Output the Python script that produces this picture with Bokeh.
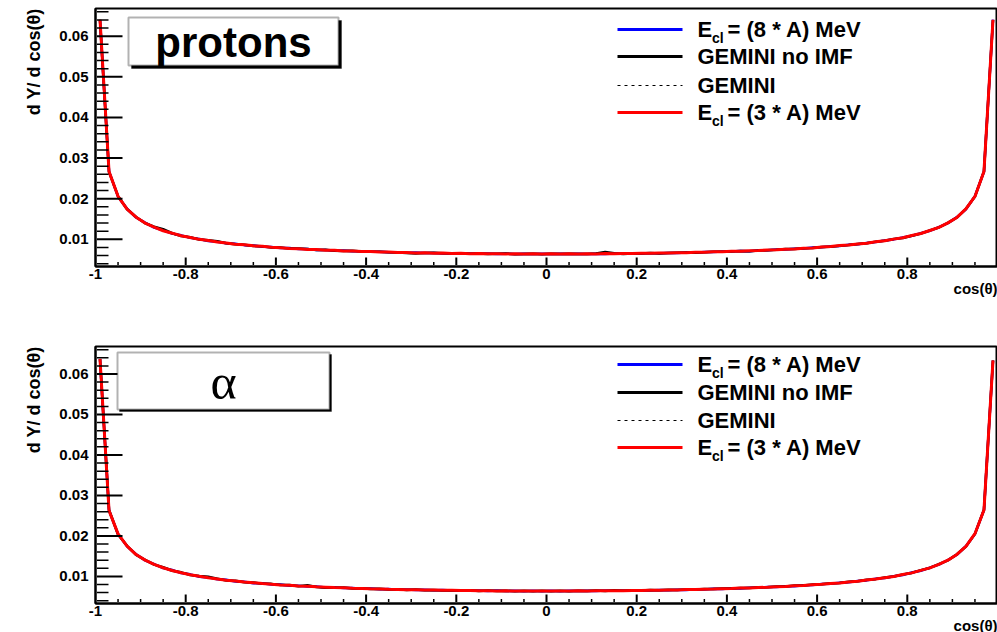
import numpy as np
from bokeh.plotting import figure
from bokeh.models import Range1d, FixedTicker, Label, BoxAnnotation, Title
from bokeh.layouts import column
from bokeh.embed import file_html
from bokeh.resources import INLINE

# 100 bins in cos(theta) between -1 and 1; curves go through the bin centres
n_bins = 100
cos_theta = np.linspace(-0.99, 0.99, n_bins)

# ---- protons ----
proton_ecl8 = [
    0.06395, 0.02671, 0.02049, 0.01751, 0.01536, 0.01408, 0.01289, 0.01220, 0.01139, 0.01097,
    0.01036, 0.01008, 0.00959, 0.00941, 0.00901, 0.00889, 0.00856, 0.00846, 0.00818, 0.00811,
    0.00786, 0.00783, 0.00760, 0.00759, 0.00739, 0.00737, 0.00720, 0.00721, 0.00704, 0.00705,
    0.00690, 0.00692, 0.00678, 0.00681, 0.00668, 0.00672, 0.00660, 0.00664, 0.00653, 0.00658,
    0.00647, 0.00652, 0.00642, 0.00648, 0.00639, 0.00646, 0.00637, 0.00644, 0.00636, 0.00642,
    0.00636, 0.00643, 0.00637, 0.00645, 0.00638, 0.00646, 0.00640, 0.00649, 0.00644, 0.00655,
    0.00650, 0.00658, 0.00654, 0.00664, 0.00660, 0.00676, 0.00668, 0.00686, 0.00684, 0.00698,
    0.00697, 0.00712, 0.00704, 0.00728, 0.00729, 0.00747, 0.00750, 0.00769, 0.00774, 0.00795,
    0.00802, 0.00827, 0.00837, 0.00865, 0.00879, 0.00911, 0.00931, 0.00970, 0.00997, 0.01046,
    0.01086, 0.01150, 0.01209, 0.01300, 0.01397, 0.01545, 0.01739, 0.02061, 0.02663, 0.06405,
]
proton_gemini_noimf = [
    0.06390, 0.02660, 0.02062, 0.01738, 0.01550, 0.01395, 0.01310, 0.01250, 0.01150, 0.01080,
    0.01050, 0.00995, 0.00975, 0.00950, 0.00900, 0.00880, 0.00868, 0.00835, 0.00828, 0.00800,
    0.00795, 0.00770, 0.00772, 0.00758, 0.00738, 0.00742, 0.00720, 0.00712, 0.00715, 0.00700,
    0.00690, 0.00695, 0.00680, 0.00672, 0.00660, 0.00650, 0.00662, 0.00668, 0.00655, 0.00650,
    0.00656, 0.00645, 0.00650, 0.00640, 0.00645, 0.00648, 0.00632, 0.00640, 0.00645, 0.00630,
    0.00642, 0.00636, 0.00645, 0.00640, 0.00638, 0.00650, 0.00690, 0.00655, 0.00640, 0.00648,
    0.00652, 0.00662, 0.00650, 0.00660, 0.00668, 0.00675, 0.00670, 0.00680, 0.00692, 0.00690,
    0.00700, 0.00712, 0.00705, 0.00722, 0.00730, 0.00740, 0.00758, 0.00762, 0.00780, 0.00788,
    0.00812, 0.00818, 0.00842, 0.00858, 0.00886, 0.00902, 0.00942, 0.00962, 0.01010, 0.01030,
    0.01085, 0.01140, 0.01220, 0.01290, 0.01405, 0.01535, 0.01750, 0.02050, 0.02672, 0.06398,
]
proton_gemini = [
    0.06402, 0.02668, 0.02055, 0.01745, 0.01540, 0.01403, 0.01293, 0.01215, 0.01148, 0.01088,
    0.01045, 0.00999, 0.00968, 0.00933, 0.00909, 0.00881, 0.00863, 0.00839, 0.00825, 0.00804,
    0.00793, 0.00776, 0.00767, 0.00752, 0.00745, 0.00731, 0.00726, 0.00714, 0.00710, 0.00699,
    0.00696, 0.00686, 0.00684, 0.00675, 0.00674, 0.00666, 0.00666, 0.00658, 0.00659, 0.00652,
    0.00653, 0.00646, 0.00648, 0.00642, 0.00645, 0.00640, 0.00643, 0.00638, 0.00641, 0.00637,
    0.00641, 0.00637, 0.00642, 0.00639, 0.00644, 0.00641, 0.00646, 0.00644, 0.00650, 0.00649,
    0.00656, 0.00655, 0.00662, 0.00662, 0.00670, 0.00670, 0.00679, 0.00680, 0.00690, 0.00692,
    0.00703, 0.00706, 0.00718, 0.00722, 0.00735, 0.00741, 0.00756, 0.00763, 0.00780, 0.00789,
    0.00808, 0.00821, 0.00843, 0.00859, 0.00885, 0.00905, 0.00937, 0.00964, 0.01003, 0.01040,
    0.01092, 0.01144, 0.01215, 0.01294, 0.01403, 0.01539, 0.01745, 0.02055, 0.02669, 0.06399,
]
proton_ecl3 = [
    0.06404, 0.02665, 0.02058, 0.01740, 0.01545, 0.01398, 0.01298, 0.01210, 0.01150, 0.01086,
    0.01046, 0.00998, 0.00970, 0.00932, 0.00910, 0.00880, 0.00864, 0.00838, 0.00826, 0.00802,
    0.00794, 0.00775, 0.00768, 0.00750, 0.00746, 0.00730, 0.00727, 0.00713, 0.00711, 0.00698,
    0.00697, 0.00685, 0.00685, 0.00674, 0.00675, 0.00665, 0.00667, 0.00657, 0.00660, 0.00651,
    0.00654, 0.00645, 0.00649, 0.00641, 0.00646, 0.00639, 0.00644, 0.00637, 0.00642, 0.00636,
    0.00642, 0.00636, 0.00643, 0.00638, 0.00645, 0.00640, 0.00647, 0.00643, 0.00651, 0.00648,
    0.00657, 0.00654, 0.00663, 0.00661, 0.00671, 0.00669, 0.00680, 0.00679, 0.00691, 0.00691,
    0.00704, 0.00705, 0.00719, 0.00721, 0.00736, 0.00740, 0.00757, 0.00762, 0.00781, 0.00788,
    0.00809, 0.00820, 0.00844, 0.00858, 0.00886, 0.00904, 0.00938, 0.00963, 0.01004, 0.01039,
    0.01093, 0.01143, 0.01216, 0.01293, 0.01404, 0.01538, 0.01746, 0.02054, 0.02670, 0.06403,
]

# ---- alphas ----
alpha_ecl8 = [
    0.06370, 0.02630, 0.02045, 0.01742, 0.01548, 0.01395, 0.01305, 0.01205, 0.01158, 0.01082,
    0.01050, 0.00992, 0.00975, 0.00928, 0.00915, 0.00876, 0.00869, 0.00833, 0.00830, 0.00798,
    0.00797, 0.00771, 0.00770, 0.00747, 0.00749, 0.00727, 0.00730, 0.00710, 0.00714, 0.00695,
    0.00700, 0.00683, 0.00688, 0.00672, 0.00678, 0.00663, 0.00670, 0.00655, 0.00663, 0.00649,
    0.00657, 0.00643, 0.00652, 0.00639, 0.00649, 0.00636, 0.00647, 0.00634, 0.00645, 0.00633,
    0.00644, 0.00634, 0.00646, 0.00636, 0.00648, 0.00639, 0.00650, 0.00642, 0.00654, 0.00646,
    0.00659, 0.00651, 0.00665, 0.00658, 0.00672, 0.00666, 0.00681, 0.00676, 0.00692, 0.00688,
    0.00705, 0.00702, 0.00720, 0.00718, 0.00737, 0.00737, 0.00758, 0.00759, 0.00782, 0.00785,
    0.00810, 0.00817, 0.00845, 0.00855, 0.00887, 0.00901, 0.00939, 0.00960, 0.01005, 0.01036,
    0.01094, 0.01140, 0.01217, 0.01290, 0.01405, 0.01535, 0.01747, 0.02050, 0.02640, 0.06330,
]
alpha_gemini_noimf = [
    0.06365, 0.02640, 0.02035, 0.01755, 0.01530, 0.01410, 0.01290, 0.01225, 0.01140, 0.01100,
    0.01035, 0.01010, 0.00990, 0.00945, 0.00900, 0.00890, 0.00855, 0.00850, 0.00815, 0.00815,
    0.00785, 0.00785, 0.00758, 0.00780, 0.00738, 0.00722, 0.00718, 0.00726, 0.00702, 0.00708,
    0.00690, 0.00695, 0.00676, 0.00684, 0.00666, 0.00675, 0.00658, 0.00666, 0.00651, 0.00660,
    0.00645, 0.00655, 0.00640, 0.00650, 0.00636, 0.00648, 0.00633, 0.00646, 0.00631, 0.00645,
    0.00632, 0.00646, 0.00635, 0.00648, 0.00638, 0.00651, 0.00641, 0.00655, 0.00646, 0.00660,
    0.00652, 0.00663, 0.00658, 0.00670, 0.00666, 0.00679, 0.00674, 0.00689, 0.00686, 0.00701,
    0.00698, 0.00716, 0.00713, 0.00732, 0.00731, 0.00751, 0.00752, 0.00773, 0.00775, 0.00800,
    0.00803, 0.00832, 0.00838, 0.00870, 0.00880, 0.00916, 0.00932, 0.00975, 0.00998, 0.01050,
    0.01086, 0.01155, 0.01208, 0.01302, 0.01395, 0.01548, 0.01738, 0.02050, 0.02645, 0.06335,
]
alpha_gemini = [
    0.06372, 0.02628, 0.02052, 0.01744, 0.01542, 0.01400, 0.01298, 0.01212, 0.01148, 0.01088,
    0.01044, 0.01000, 0.00967, 0.00934, 0.00908, 0.00882, 0.00862, 0.00840, 0.00824, 0.00805,
    0.00792, 0.00777, 0.00766, 0.00753, 0.00744, 0.00732, 0.00725, 0.00715, 0.00709, 0.00700,
    0.00695, 0.00687, 0.00683, 0.00676, 0.00673, 0.00667, 0.00665, 0.00659, 0.00658, 0.00653,
    0.00652, 0.00647, 0.00647, 0.00643, 0.00644, 0.00640, 0.00642, 0.00638, 0.00640, 0.00637,
    0.00638, 0.00640, 0.00639, 0.00642, 0.00641, 0.00644, 0.00643, 0.00647, 0.00647, 0.00652,
    0.00653, 0.00658, 0.00659, 0.00665, 0.00667, 0.00673, 0.00676, 0.00683, 0.00687, 0.00695,
    0.00700, 0.00709, 0.00715, 0.00725, 0.00732, 0.00744, 0.00753, 0.00766, 0.00777, 0.00792,
    0.00805, 0.00824, 0.00840, 0.00862, 0.00882, 0.00908, 0.00934, 0.00967, 0.01000, 0.01044,
    0.01088, 0.01148, 0.01212, 0.01298, 0.01400, 0.01542, 0.01744, 0.02052, 0.02642, 0.06332,
]
alpha_ecl3 = [
    0.06375, 0.02625, 0.02050, 0.01746, 0.01540, 0.01402, 0.01296, 0.01214, 0.01146, 0.01090,
    0.01042, 0.01002, 0.00965, 0.00936, 0.00906, 0.00884, 0.00860, 0.00842, 0.00822, 0.00807,
    0.00790, 0.00779, 0.00764, 0.00755, 0.00742, 0.00734, 0.00723, 0.00717, 0.00707, 0.00702,
    0.00693, 0.00689, 0.00681, 0.00678, 0.00671, 0.00669, 0.00663, 0.00661, 0.00657, 0.00655,
    0.00650, 0.00649, 0.00645, 0.00645, 0.00641, 0.00642, 0.00638, 0.00640, 0.00636, 0.00639,
    0.00637, 0.00641, 0.00638, 0.00643, 0.00640, 0.00645, 0.00642, 0.00648, 0.00646, 0.00653,
    0.00652, 0.00659, 0.00658, 0.00666, 0.00666, 0.00674, 0.00675, 0.00684, 0.00686, 0.00696,
    0.00699, 0.00710, 0.00714, 0.00726, 0.00731, 0.00745, 0.00752, 0.00767, 0.00776, 0.00793,
    0.00804, 0.00825, 0.00839, 0.00863, 0.00881, 0.00909, 0.00933, 0.00968, 0.00999, 0.01045,
    0.01087, 0.01149, 0.01211, 0.01299, 0.01399, 0.01543, 0.01742, 0.02054, 0.02640, 0.06335,
]

# axis ticks and labels
x_major_ticks = [-1.0, -0.8, -0.6, -0.4, -0.2, 0.0, 0.2, 0.4, 0.6, 0.8]
x_tick_labels = ["-1", "-0.8", "-0.6", "-0.4", "-0.2", "0", "0.2", "0.4", "0.6", "0.8"]
x_minor_ticks = [round(-1 + 0.05 * i, 2) for i in range(41)]
y_major_ticks = [0.01, 0.02, 0.03, 0.04, 0.05, 0.06]
y_tick_labels = ["0.01", "0.02", "0.03", "0.04", "0.05", "0.06"]
y_minor_ticks = [round(0.002 * i, 3) for i in range(2, 34)]

x_title = "cos(\u03b8)"
y_title = "d Y/ d cos(\u03b8)"

# legend entries: (main text, subscript, remainder)
legend_entries = [
    ("E", "cl", "= (8 * A) MeV"),
    ("GEMINI no IMF", "", ""),
    ("GEMINI", "", ""),
    ("E", "cl", "= (3 * A) MeV"),
]

FONT = "Liberation Sans"
W, H = 997, 316
X0 = 95                # left edge of the frame (px)
Y_LO, Y_HI = 0.0033, 0.0668

series_styles = [
    dict(color="#0000ff", line_width=2.5, line_dash="solid"),
    dict(color="#000000", line_width=2.5, line_dash="solid"),
    dict(color="#000000", line_width=1, line_dash="3 4"),
    dict(color="#ff0000", line_width=3, line_dash="solid"),
]


def x_title_annotation():
    kw = dict(text=x_title, align="right", text_font=FONT, text_font_style="bold",
              text_font_size="15px", text_color="black")
    try:
        return Title(standoff=-8, **kw)
    except ValueError:
        return Title(standoff=0, **kw)


def make_panel(series, top, bottom, box, box_text, box_font, box_size,
               legend_y, shadow):
    frame_h = H - top - bottom
    frame_w = W - X0

    def fx(px):
        return -1.0 + (px - X0) * 2.0 / frame_w

    def fy(py):
        return Y_HI - (py - top) * (Y_HI - Y_LO) / frame_h

    dx_per_px = 2.0 / frame_w
    dy_per_px = (Y_HI - Y_LO) / frame_h

    p = figure(width=W, height=H, output_backend="svg", toolbar_location=None,
               x_range=Range1d(-1.0, 1.0), y_range=Range1d(Y_LO, Y_HI),
               min_border_left=X0, min_border_right=0,
               min_border_top=top, min_border_bottom=bottom)
    p.background_fill_color = "white"
    p.border_fill_color = "white"
    p.grid.visible = False
    p.outline_line_color = "black"
    p.outline_line_width = 2

    xa = p.xaxis[0]
    ya = p.yaxis[0]
    xa.major_label_standoff = 2
    ya.major_label_standoff = 7
    xa.ticker = FixedTicker(ticks=x_major_ticks, minor_ticks=x_minor_ticks)
    xa.major_label_overrides = dict(zip(x_major_ticks, x_tick_labels))
    ya.ticker = FixedTicker(ticks=y_major_ticks, minor_ticks=y_minor_ticks)
    ya.major_label_overrides = dict(zip(y_major_ticks, y_tick_labels))

    for ax in (xa, ya):
        ax.axis_line_width = 2
        ax.major_tick_in = ax.major_tick_out = 0
        ax.minor_tick_in = ax.minor_tick_out = 0
        ax.major_label_text_font = FONT
        ax.major_label_text_font_style = "bold"
        ax.major_label_text_font_size = "15px"
        ax.major_label_text_color = "black"

    for ys, st in zip(series, series_styles):
        p.line(cos_theta, ys, **st)

    # inward tick marks along the bottom and left edges of the frame
    inset = 1.5
    x_lo = -1.0 + inset * dx_per_px
    y_lo = Y_LO + inset * dy_per_px
    xt = np.array([t for t in x_minor_ticks if -1.0 < t < 1.0])
    is_xmaj = np.array([t in x_major_ticks for t in xt])
    yt = np.array(y_minor_ticks)
    is_ymaj = np.array([t in y_major_ticks for t in yt])
    p.segment(x0=xt, y0=np.full(len(xt), y_lo),
              x1=xt, y1=Y_LO + np.where(is_xmaj, 9.0, 4.5) * dy_per_px,
              line_width=np.where(is_xmaj, 2.0, 1.5), line_color="black")
    p.segment(x0=np.full(len(yt), x_lo), y0=yt,
              x1=-1.0 + np.where(is_ymaj, 27.0, 13.0) * dx_per_px, y1=yt,
              line_width=np.where(is_ymaj, 2.0, 1.5), line_color="black")

    # axis titles: y title at the top of the left margin, x title at the right end
    p.add_layout(Title(text=y_title, align="right", standoff=25,
                       text_font=FONT, text_font_style="bold", text_font_size="18px",
                       text_color="black"), "left")
    p.add_layout(x_title_annotation(), "below")

    # title box with shadow
    l, t, r, b = box
    p.add_layout(BoxAnnotation(left=fx(l + shadow), right=fx(r + shadow),
                               top=fy(t + shadow), bottom=fy(b + shadow),
                               fill_color="black", fill_alpha=1, line_color="black"))
    p.add_layout(BoxAnnotation(left=fx(l), right=fx(r), top=fy(t), bottom=fy(b),
                               fill_color="white", fill_alpha=1,
                               line_color="black", line_width=2))
    p.add_layout(Label(x=fx((l + r) / 2), y=fy((t + b) / 2 + 1), text=box_text,
                       text_align="center", text_baseline="middle",
                       text_font=box_font, text_font_style=box_size[1],
                       text_font_size=box_size[0], text_color="black"))

    # legend
    for (main, sub, rest), st, ly in zip(legend_entries, series_styles, legend_y):
        lw = 1 if st["line_dash"] != "solid" else 3
        p.segment(x0=fx(617), y0=fy(ly), x1=fx(682), y1=fy(ly),
                  line_color=st["color"], line_width=lw, line_dash=st["line_dash"])
        p.add_layout(Label(x=fx(697), y=fy(ly), text=main, text_align="left",
                           text_baseline="middle", text_font=FONT, text_color="black",
                           text_font_style="bold", text_font_size="22px"))
        if sub:
            p.add_layout(Label(x=fx(711.5), y=fy(ly + 8), text=sub, text_align="left",
                               text_baseline="middle", text_font=FONT, text_color="black",
                               text_font_style="bold", text_font_size="14px"))
            p.add_layout(Label(x=fx(727), y=fy(ly), text=rest, text_align="left",
                               text_baseline="middle", text_font=FONT, text_color="black",
                               text_font_style="bold", text_font_size="22px"))
    return p


p_top = make_panel([proton_ecl8, proton_gemini_noimf, proton_gemini, proton_ecl3],
                   top=8, bottom=50, box=(128, 17, 338, 65), box_text="protons",
                   box_font=FONT, box_size=("42px", "bold"),
                   legend_y=[29, 56, 85, 112], shadow=3)
p_bot = make_panel([alpha_ecl8, alpha_gemini_noimf, alpha_gemini, alpha_ecl3],
                   top=30, bottom=29, box=(117, 36, 329, 93), box_text="\u03b1",
                   box_font="Liberation Serif", box_size=("50px", "normal"),
                   legend_y=[48, 76, 104, 131], shadow=2)

layout = column(p_top, p_bot, spacing=0)
open("out.html", "w").write(file_html(layout, INLINE))
